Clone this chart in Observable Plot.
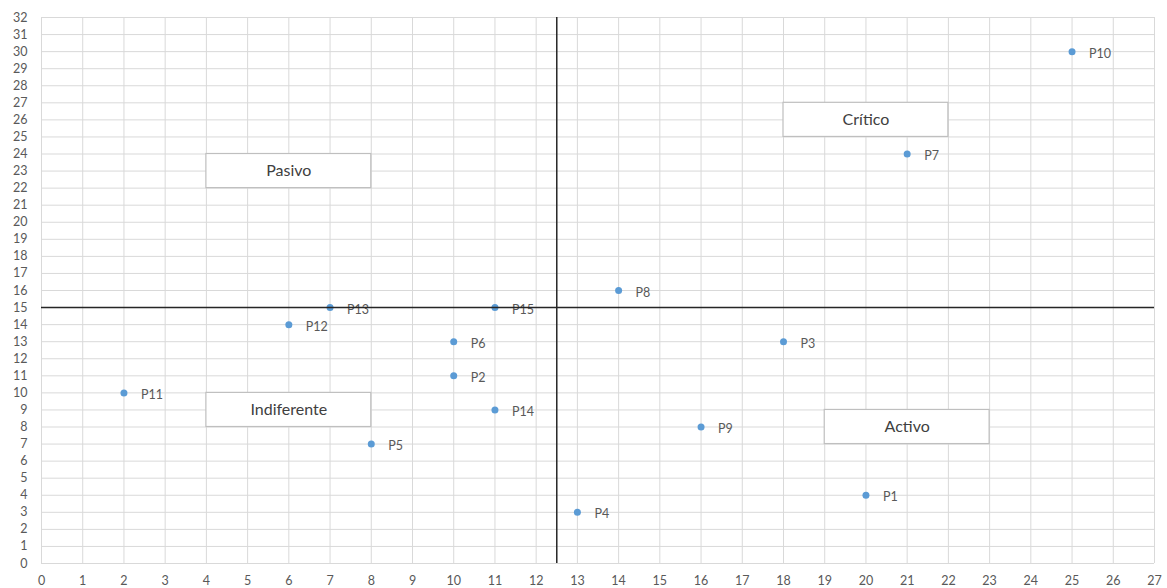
<!DOCTYPE html>
<html>
<head>
<meta charset="utf-8">
<script src="https://cdn.jsdelivr.net/npm/d3@7"></script>
<script src="https://cdn.jsdelivr.net/npm/@observablehq/plot@0.6"></script>
<style>
  html, body { margin: 0; padding: 0; background: #fff; }
  #chart { width: 1167px; height: 588px; overflow: hidden; }
</style>
</head>
<body>
<div id="chart"></div>
<script>
// Point data
const names = ["P1","P2","P3","P4","P5","P6","P7","P8","P9","P10","P11","P12","P13","P14","P15"];
const xs    = [20, 10, 18, 13, 8, 10, 21, 14, 16, 25, 2, 6, 7, 11, 11];
const ys    = [4, 11, 13, 3, 7, 13, 24, 16, 8, 30, 10, 14, 15, 9, 15];

// Quadrant boxes
const boxLabels = ["Pasivo", "Crítico", "Indiferente", "Activo"];
const boxX1 = [4, 18, 4, 19];
const boxX2 = [8, 22, 8, 23];
const boxY1 = [22, 25, 8, 7];
const boxY2 = [24, 27, 10, 9];

// Quadrant dividers
const dividerX = [12.5];
const dividerY = [15];

// Ticks
const xTicks = d3.range(0, 28);
const yTicks = d3.range(0, 33);

const points = names.map((n, i) => ({name: n, x: xs[i], y: ys[i]}));
const boxes = boxLabels.map((l, i) => ({label: l, x1: boxX1[i], x2: boxX2[i], y1: boxY1[i], y2: boxY2[i]}));

const chart = Plot.plot({
  width: 1167,
  height: 588,
  marginLeft: 41,
  marginRight: 13,
  marginTop: 17,
  marginBottom: 25,
  style: {fontFamily: "Lato, 'Open Sans', sans-serif", background: "#fff"},
  x: {domain: [0, 27]},
  y: {domain: [0, 32]},
  marks: [
    Plot.gridX(xTicks, {stroke: "#d9d9d9", strokeOpacity: 1, strokeWidth: 1}),
    Plot.gridY(yTicks, {stroke: "#d9d9d9", strokeOpacity: 1, strokeWidth: 1}),
    Plot.axisX(xTicks, {tickSize: 0, tickPadding: 13, fontSize: 12.5, fill: "#595959", label: null}),
    Plot.axisY(yTicks, {tickSize: 0, tickPadding: 14, fontSize: 12.5, fill: "#595959", label: null}),
    Plot.rect(boxes, {x1: "x1", x2: "x2", y1: "y1", y2: "y2", fill: "#fff", stroke: "#bfbfbf", strokeWidth: 1.2}),
    Plot.text(boxes, {x: d => (d.x1 + d.x2) / 2, y: d => (d.y1 + d.y2) / 2, text: "label", fontSize: 16, fill: "#404040"}),
    Plot.dot(points, {x: "x", y: "y", r: 3.5, fill: "#5b9bd5", stroke: "none"}),
    Plot.text(points, {x: "x", y: "y", text: "name", dx: 17, dy: 2, textAnchor: "start", fontSize: 12.5, fill: "#595959"}),
    Plot.ruleX(dividerX, {stroke: "#262626", strokeWidth: 1.5}),
    Plot.ruleY(dividerY, {stroke: "#262626", strokeWidth: 1.5})
  ]
});
document.getElementById("chart").appendChild(chart);
</script>
</body>
</html>
